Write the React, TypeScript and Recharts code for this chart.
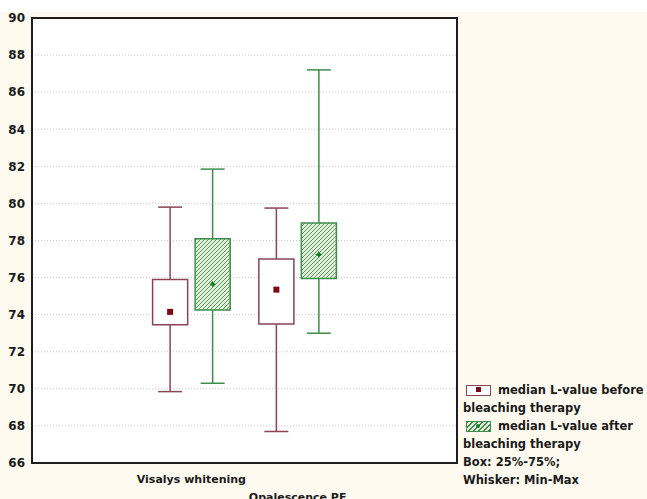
import React from 'react';
import {
  ComposedChart, XAxis, YAxis, CartesianGrid, ReferenceArea, ReferenceLine, Scatter,
} from 'recharts';

// ---------- data ----------
const categories = ['Visalys whitening', 'Opalescence PE'];
const beforeMin = [69.85, 67.7];
const beforeQ1 = [73.45, 73.5];
const beforeMedian = [74.15, 75.35];
const beforeQ3 = [75.9, 77.0];
const beforeMax = [79.8, 79.75];
const afterMin = [70.3, 73.0];
const afterQ1 = [74.25, 75.95];
const afterMedian = [75.65, 77.25];
const afterQ3 = [78.1, 78.95];
const afterMax = [81.85, 87.2];
const yTicks = [66, 68, 70, 72, 74, 76, 78, 80, 82, 84, 86, 88, 90];
const xTicks = [0, 1, 2, 3];
const xDomain = [-0.5, 3.5];
const yDomain = [66, 90];
const legendLines = [
  'median L-value before',
  'bleaching therapy',
  'median L-value after',
  'bleaching therapy',
  'Box: 25%-75%;',
  'Whisker: Min-Max',
];

// ---------- layout constants ----------
const OFFSET = 0.2;
const HALF_BOX = 0.165;
const HALF_CAP = 0.113;
const BEFORE_COLOR = '#8a4456';
const BEFORE_MARK = '#7a0c18';
const AFTER_COLOR = '#3f8c4c';
const AFTER_MARK = '#137a26';
const FONT = '"DejaVu Sans", Verdana, sans-serif';

const beforeData = categories.map((c, i) => ({ x: i + 1 - OFFSET, y: beforeMedian[i] }));
const afterData = categories.map((c, i) => ({ x: i + 1 + OFFSET, y: afterMedian[i] }));

const XTick = (props: any) => {
  const { x, y, payload } = props;
  const v = payload.value;
  if (v < 1 || v > categories.length) return null;
  const dy = v === 1 ? 20 : 38;
  return (
    <text x={x} y={y + dy} textAnchor="middle" fontFamily={FONT} fontWeight="bold" fontSize={11} fill="#1a1a1a">
      {categories[v - 1]}
    </text>
  );
};

const BeforeMark = (props: any) => {
  const { cx, cy } = props;
  return <rect x={cx - 3} y={cy - 3} width={6} height={6} fill={BEFORE_MARK} />;
};
const AfterMark = (props: any) => {
  const { cx, cy } = props;
  return (
    <g>
      <circle cx={cx} cy={cy} r={2} fill={AFTER_MARK} />
      <line x1={cx - 3} x2={cx + 3} y1={cy} y2={cy} stroke={AFTER_MARK} strokeWidth={1} />
      <line x1={cx} x2={cx} y1={cy - 3} y2={cy + 3} stroke={AFTER_MARK} strokeWidth={1} />
    </g>
  );
};

function boxElements(
  pos: number[], mins: number[], q1: number[], q3: number[], maxs: number[],
  color: string, fill: string, key: string,
) {
  const els: React.ReactNode[] = [];
  pos.forEach((p, i) => {
    els.push(
      <ReferenceLine key={`${key}-wu${i}`} segment={[{ x: p, y: q3[i] }, { x: p, y: maxs[i] }]} stroke={color} strokeWidth={1.5} ifOverflow="visible" />,
      <ReferenceLine key={`${key}-wl${i}`} segment={[{ x: p, y: mins[i] }, { x: p, y: q1[i] }]} stroke={color} strokeWidth={1.5} ifOverflow="visible" />,
      <ReferenceLine key={`${key}-cu${i}`} segment={[{ x: p - HALF_CAP, y: maxs[i] }, { x: p + HALF_CAP, y: maxs[i] }]} stroke={color} strokeWidth={1.5} ifOverflow="visible" />,
      <ReferenceLine key={`${key}-cl${i}`} segment={[{ x: p - HALF_CAP, y: mins[i] }, { x: p + HALF_CAP, y: mins[i] }]} stroke={color} strokeWidth={1.5} ifOverflow="visible" />,
      <ReferenceArea key={`${key}-b${i}`} x1={p - HALF_BOX} x2={p + HALF_BOX} y1={q1[i]} y2={q3[i]} fill={fill} fillOpacity={1} stroke={color} strokeWidth={1.5} ifOverflow="visible" />,
    );
  });
  return els;
}

const hatchCss =
  'repeating-linear-gradient(135deg, #3f8c4c 0px, #3f8c4c 1px, #e4f0dc 1px, #e4f0dc 3.5px)';

export default function App() {
  const beforePos = categories.map((c, i) => i + 1 - OFFSET);
  const afterPos = categories.map((c, i) => i + 1 + OFFSET);
  return (
    <div style={{ position: 'absolute', left: 0, top: 0, width: 647, height: 499, background: '#fffaef', overflow: 'hidden' }}>
      <div style={{ position: 'absolute', left: 0, top: 0, width: 647, height: 12, background: '#ffffff' }} />
      <svg width={0} height={0} style={{ position: 'absolute' }}>
        <defs>
          <pattern id="hatch" width={4} height={4} patternUnits="userSpaceOnUse">
            <rect width={4} height={4} fill="#e4f0dc" />
            <path d="M-1,1 l2,-2 M0,4 l4,-4 M3,5 l2,-2" stroke="#4f9a5a" strokeWidth={1} />
          </pattern>
        </defs>
      </svg>
      <div style={{ position: 'absolute', left: 0, top: 0 }}>
        <ComposedChart width={647} height={499} margin={{ top: 18, right: 190, bottom: 0, left: 0 }}>
          <CartesianGrid horizontal vertical={false} fill="#ffffff" stroke="#c8c8c8" strokeDasharray="1 2" />
          <XAxis type="number" dataKey="x" domain={xDomain} ticks={xTicks} interval={0}
            axisLine={{ stroke: '#1e1e1e', strokeWidth: 2 }} tickLine={false} tickSize={0} tickMargin={0}
            height={36} tick={<XTick />} allowDataOverflow />
          <YAxis type="number" domain={yDomain} ticks={yTicks} interval={0} width={32}
            axisLine={{ stroke: '#1e1e1e', strokeWidth: 2 }} tickLine={false} tickSize={6} tickMargin={1}
            tick={{ fontFamily: FONT, fontWeight: 'bold', fontSize: 12, fill: '#1a1a1a' }} allowDataOverflow />
          {boxElements(beforePos, beforeMin, beforeQ1, beforeQ3, beforeMax, BEFORE_COLOR, '#ffffff', 'b')}
          {boxElements(afterPos, afterMin, afterQ1, afterQ3, afterMax, AFTER_COLOR, 'url(#hatch)', 'a')}
          <ReferenceArea x1={xDomain[0]} x2={xDomain[1]} y1={yDomain[0]} y2={yDomain[1]} fill="none" stroke="#1e1e1e" strokeWidth={2} ifOverflow="visible" />
          <Scatter name="median L-value before bleaching therapy" data={beforeData} dataKey="y" shape={<BeforeMark />} isAnimationActive={false} />
          <Scatter name="median L-value after bleaching therapy" data={afterData} dataKey="y" shape={<AfterMark />} isAnimationActive={false} />
        </ComposedChart>
      </div>
      <div style={{ position: 'absolute', left: 463, top: 381, fontFamily: FONT, fontWeight: 'bold', fontSize: 11.5, color: '#1a1a1a', lineHeight: '18px', whiteSpace: 'nowrap' }}>
        {legendLines.map((t, i) => (
          <div key={i} style={{ height: 18, display: 'flex', alignItems: 'center' }}>
            {i === 0 && (
              <span style={{ display: 'inline-block', boxSizing: 'border-box', width: 25, height: 11, marginLeft: 3, marginRight: 7, border: `1.5px solid ${BEFORE_COLOR}`, background: '#fff', position: 'relative' }}>
                <span style={{ position: 'absolute', left: 8.5, top: 1.5, width: 5, height: 5, background: BEFORE_MARK }} />
              </span>
            )}
            {i === 2 && (
              <span style={{ display: 'inline-block', boxSizing: 'border-box', width: 25, height: 11, marginLeft: 3, marginRight: 7, border: `1.5px solid ${AFTER_COLOR}`, background: hatchCss, position: 'relative' }}>
                <span style={{ position: 'absolute', left: 9, top: 2, width: 4, height: 4, borderRadius: 2, background: AFTER_MARK }} />
              </span>
            )}
            <span>{t}</span>
          </div>
        ))}
      </div>
    </div>
  );
}
